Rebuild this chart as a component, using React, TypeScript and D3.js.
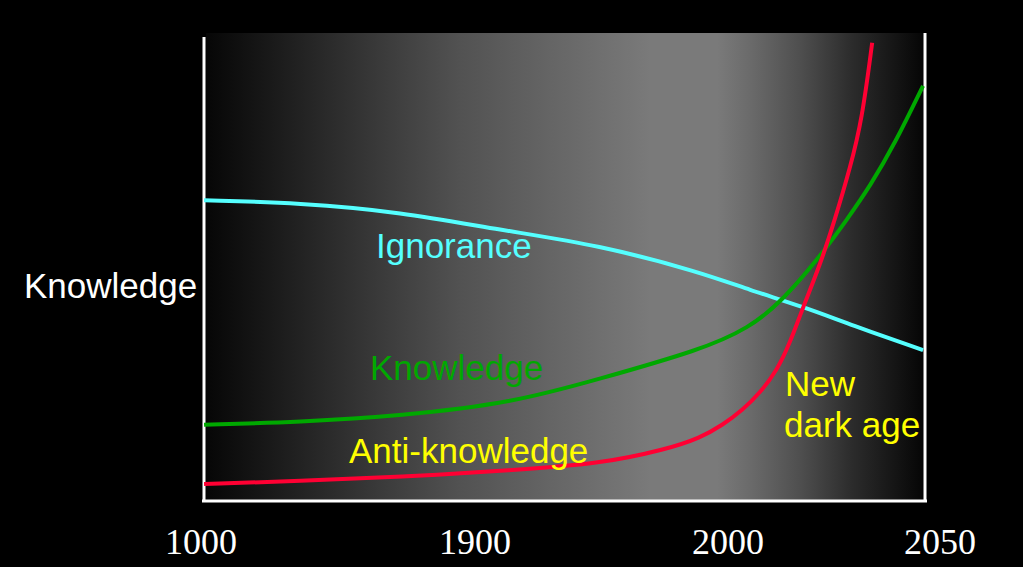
import React from "react";
import * as d3 from "d3";

// Tick labels (years) on the non-linear time axis
const tickYears = [1000, 1900, 2000, 2050];

// Ignorance curve (cyan)
const ignoranceYears = [1010, 1325, 1654, 1910, 1949, 1989, 2005, 2018, 2029, 2046];
const ignoranceValues = [64.2, 63.6, 61.7, 57.8, 54.6, 48.8, 45.0, 41.3, 37.5, 32.1];

// Knowledge curve (green)
const knowledgeYears = [1010, 1325, 1654, 1915, 1949, 1989, 2005, 2013, 2022, 2028, 2033.5, 2039.4, 2046];
const knowledgeValues = [16.1, 16.7, 18.0, 20.8, 25.9, 32.1, 36.8, 42.8, 52.5, 60.0, 67.2, 76.4, 88.7];

// Anti-knowledge curve (red)
const antiYears = [1010, 1325, 1654, 1915, 1949, 1976, 1989, 1998, 2003.5, 2007.5, 2011.6, 2014.6, 2017.7, 2021.7, 2025.2, 2028.8, 2031.6, 2034];
const antiValues = [3.4, 4.1, 4.9, 6.4, 7.7, 10.9, 13.3, 16.1, 19.3, 22.9, 27.8, 33.6, 41.3, 50.3, 60.0, 71.1, 81.4, 97.9];

const W = 1023;
const H = 567;

export default function App() {
  const x = d3.scaleLinear().domain(tickYears).range([201, 475, 728, 940]);
  const y = d3.scaleLinear().domain([0, 100]).range([500, 33]);

  const line = d3
    .line<[number, number]>()
    .x((d) => x(d[0]))
    .y((d) => y(d[1]))
    .curve(d3.curveBasis);

  const zip = (a: number[], b: number[]) => a.map((v, i) => [v, b[i]] as [number, number]);

  const panelL = 206;
  const panelR = 923;
  const panelT = 33;
  const panelB = 500;

  const font = "'Liberation Sans', Arial, sans-serif";
  const fs = 35;

  return (
    <div style={{ position: "absolute", left: 0, top: 0, width: W, height: 584, background: "#fff" }}>
      <svg width={W} height={H} style={{ display: "block", background: "#000" }}>
        <defs>
          <linearGradient id="bg" x1="0" x2="1" y1="0" y2="0">
            <stop offset="0" stopColor="#060606" />
            <stop offset="0.355" stopColor="#525252" />
            <stop offset="0.62" stopColor="#7a7a7a" />
            <stop offset="0.713" stopColor="#7a7a7a" />
            <stop offset="0.76" stopColor="#6a6a6a" />
            <stop offset="0.83" stopColor="#4e4e4e" />
            <stop offset="0.9" stopColor="#2c2c2c" />
            <stop offset="1" stopColor="#060606" />
          </linearGradient>
        </defs>
        <rect x={panelL} y={panelT} width={panelR - panelL} height={panelB - panelT} fill="url(#bg)" />

        {/* axes */}
        <line x1={204} x2={204} y1={37} y2={502} stroke="#fff" strokeWidth={3} />
        <line x1={925} x2={925} y1={33} y2={502} stroke="#fff" strokeWidth={3} />
        <line x1={202} x2={927} y1={501} y2={501} stroke="#fff" strokeWidth={3} />

        {/* curves */}
        <path d={line(zip(ignoranceYears, ignoranceValues)) || ""} fill="none" stroke="#55ffff" strokeWidth={4} />
        <path d={line(zip(knowledgeYears, knowledgeValues)) || ""} fill="none" stroke="#00a800" strokeWidth={4} />
        <path d={line(zip(antiYears, antiValues)) || ""} fill="none" stroke="#ff0033" strokeWidth={4} />

        {/* labels */}
        <text x={376} y={258} fill="#55ffff" fontFamily={font} fontSize={fs}>Ignorance</text>
        <text x={370} y={380} fill="#00a800" fontFamily={font} fontSize={fs}>Knowledge</text>
        <text x={349} y={463} fill="#ffff00" fontFamily={font} fontSize={fs}>Anti-knowledge</text>
        <text x={785} y={396} fill="#ffff00" fontFamily={font} fontSize={fs}>New</text>
        <text x={784} y={437} fill="#ffff00" fontFamily={font} fontSize={fs}>dark age</text>
        <text x={24} y={298} fill="#ffffff" fontFamily={font} fontSize={fs}>Knowledge</text>

        {/* tick labels */}
        {tickYears.map((t) => (
          <text
            key={t}
            x={x(t)}
            y={554}
            fill="#fff"
            textAnchor="middle"
            fontFamily="'Liberation Serif', 'Times New Roman', serif"
            fontSize={36}
          >
            {t}
          </text>
        ))}
      </svg>
    </div>
  );
}
